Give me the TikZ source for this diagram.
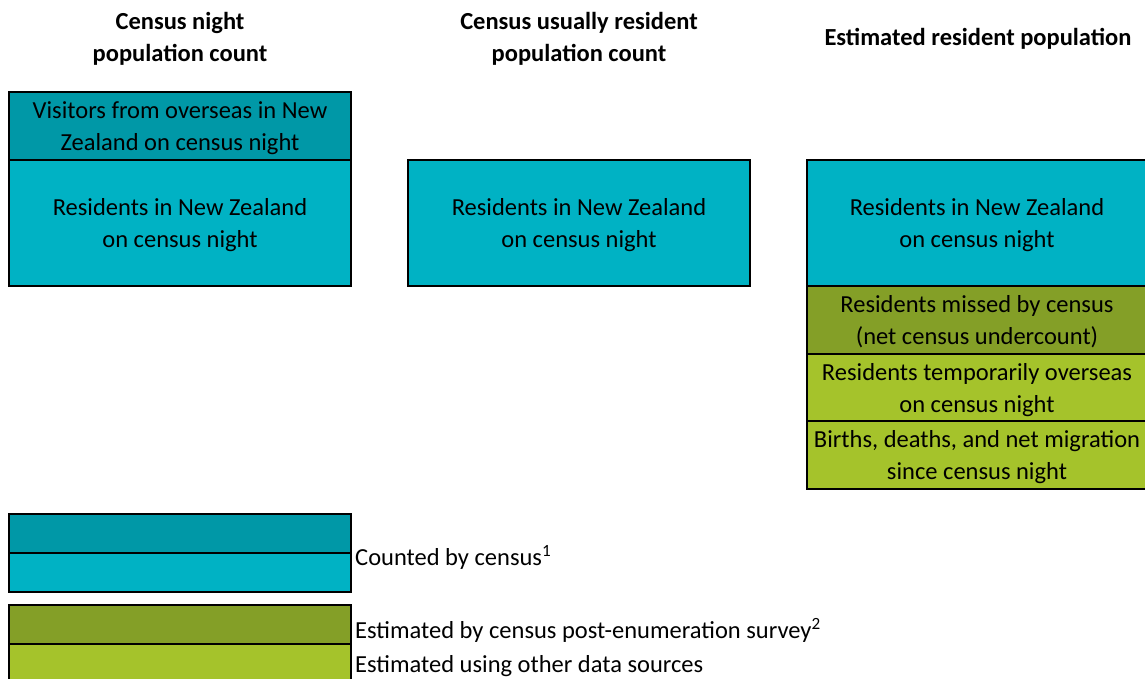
\documentclass[tikz,border=0pt]{standalone}
\usepackage{fontspec}
\setmainfont{Carlito}
\usetikzlibrary{positioning}
\definecolor{visitorteal}{RGB}{0,152,167}
\definecolor{residentteal}{RGB}{0,178,196}
\definecolor{missedolive}{RGB}{132,159,39}
\definecolor{othergreen}{RGB}{165,195,43}

\begin{document}
\begin{tikzpicture}[x=1pt,y=-1pt,node distance=0pt,every node/.style={font=\fontsize{24.5}{32}\selectfont},box/.style={draw=black,line width=2pt,inner sep=0pt,outer sep=0pt,minimum width=342pt,align=center,text depth=0pt},head/.style={font=\fontsize{24.5}{32}\selectfont\bfseries,align=center},key/.style={anchor=west,inner sep=0pt}]
        \useasboundingbox (0,0) rectangle (1145,679);
        % column headings
        \node[head] (h1) at (180,39) {Census night\\population count};
        \node[head] (h2) at (579,39) {Census usually resident\\population count};
        \node[head] (h3) at (978,39) {Estimated resident population};
        % census night
        \node[box,fill=visitorteal,minimum height=68pt,anchor=north west] (vis) at (9,92) {Visitors from overseas in New\\Zealand on census night};
        \node[box,fill=residentteal,minimum height=126pt,below=of vis] (res1) {Residents in New Zealand\\on census night};
        % usually resident
        \node[box,fill=residentteal,minimum height=126pt,anchor=north west] (res2) at (408,160) {Residents in New Zealand\\on census night};
        % estimated resident population
        \node[box,fill=residentteal,minimum width=340pt,minimum height=126pt,anchor=north west] (res3) at (807,160) {Residents in New Zealand\\on census night};
        \node[box,fill=missedolive,minimum width=340pt,minimum height=68pt,below=of res3] (miss) {Residents missed by census\\(net census undercount)};
        \node[box,fill=othergreen,minimum width=340pt,minimum height=67pt,below=of miss] (temp) {Residents temporarily overseas\\on census night};
        \node[box,fill=othergreen,minimum width=340pt,minimum height=68pt,below=of temp] (bdm) {Births, deaths, and net migration\\since census night};
        % legend
        \node[box,fill=visitorteal,minimum height=39pt,anchor=north west] (k1) at (9,514) {};
        \node[box,fill=residentteal,minimum height=39pt,below=of k1] (k2) {};
        \node[key] (t1) at (355,557) {Counted by census\textsuperscript{1}};
        \node[box,fill=missedolive,minimum height=39pt,anchor=north west] (k3) at (9,605) {};
        \node[box,fill=othergreen,minimum height=40pt,below=of k3] (k4) {};
        \node[key] (t2) at (355,630) {Estimated by census post-enumeration survey\textsuperscript{2}};
        \node[key] (t3) at (355,666) {Estimated using other data sources};
      \end{tikzpicture}
\end{document}
